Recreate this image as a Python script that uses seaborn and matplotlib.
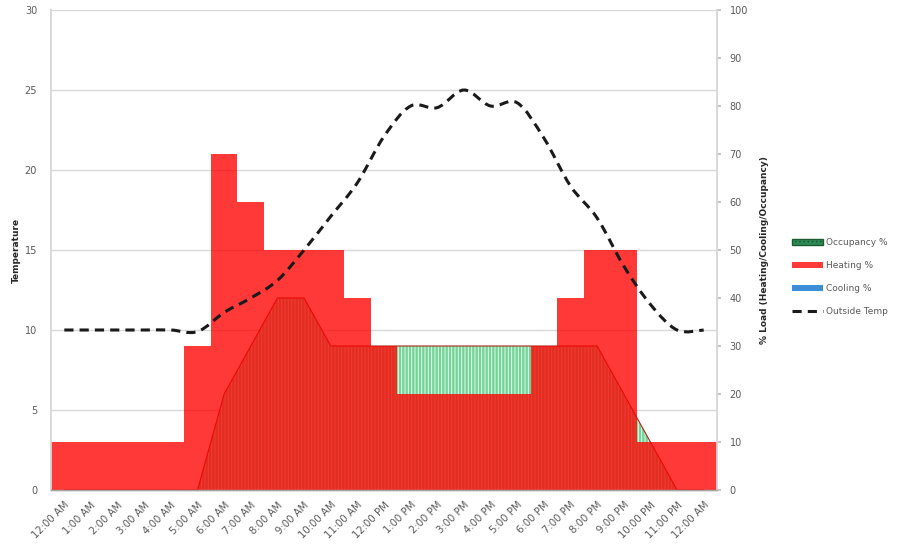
import numpy as np
import pandas as pd
import matplotlib
matplotlib.use("Agg")
import matplotlib.pyplot as plt
import seaborn as sns
from matplotlib.path import Path
from matplotlib.patches import PathPatch, Patch
from matplotlib.lines import Line2D

# Hourly profile, midnight to midnight
hours = ["12:00 AM", "1:00 AM", "2:00 AM", "3:00 AM", "4:00 AM", "5:00 AM",
         "6:00 AM", "7:00 AM", "8:00 AM", "9:00 AM", "10:00 AM", "11:00 AM",
         "12:00 PM", "1:00 PM", "2:00 PM", "3:00 PM", "4:00 PM", "5:00 PM",
         "6:00 PM", "7:00 PM", "8:00 PM", "9:00 PM", "10:00 PM", "11:00 PM",
         "12:00 AM"]
outside_temp = [10, 10, 10, 10, 10, 9.9, 11.1, 12.0, 13.1, 15.0, 17.1, 19.2,
                22.1, 24.0, 23.9, 25.0, 24.0, 24.2, 22.0, 19.0, 17.0, 14.0,
                11.6, 10.0, 10.0]
heating_pct = [10, 10, 10, 10, 10, 30, 70, 60, 50, 50, 50, 40,
               30, 20, 20, 20, 20, 20, 30, 40, 50, 50, 10, 10, 10]
cooling_pct = [0] * 25
occupancy_pct = [0, 0, 0, 0, 0, 0, 20, 30, 40, 40, 30, 30,
                 30, 30, 30, 30, 30, 30, 30, 30, 30, 20, 10, 0, 0]

temp_ticks = [0, 5, 10, 15, 20, 25, 30]
load_ticks = [0, 10, 20, 30, 40, 50, 60, 70, 80, 90, 100]

df = pd.DataFrame({"hour": [f"{i:02d}|{h}" for i, h in enumerate(hours)],
                   "heating": heating_pct, "cooling": cooling_pct,
                   "occupancy": occupancy_pct, "temp": outside_temp})

sns.set_theme(style="white")
plt.rcParams["font.family"] = ["DejaVu Sans"]
plt.rcParams["hatch.linewidth"] = 0.7

GRAY = "#595959"
fig = plt.figure(figsize=(9.14, 5.49), dpi=100)
ax = fig.add_axes([51 / 914, 59 / 549, 666 / 914, 480 / 549])
ax2 = ax.twinx()

# load series on the secondary (right) axis
x = np.arange(len(hours))
ax2.fill_between(x, df["occupancy"], 0, facecolor="#72d496", edgecolor="#e8f8ee",
                 hatch="|||||", linewidth=0, zorder=1)
ax2.plot(x, df["occupancy"], color="#a8281c", lw=0.8, zorder=1.5)
sns.barplot(data=df, x="hour", y="heating", ax=ax2, color="#ff0000", alpha=0.78,
            width=1.0, linewidth=0, saturation=1, errorbar=None, zorder=2)
sns.barplot(data=df, x="hour", y="cooling", ax=ax2, color="#3a8fd8",
            width=1.0, linewidth=0, saturation=1, errorbar=None, zorder=2)

# smoothed outside-temperature curve (Catmull-Rom style Bezier segments)
pts = np.column_stack([x, df["temp"].to_numpy(dtype=float)])
verts = [tuple(pts[0])]
codes = [Path.MOVETO]
n = len(pts)
for i in range(n - 1):
    p0 = pts[max(i - 1, 0)]
    p1 = pts[i]
    p2 = pts[i + 1]
    p3 = pts[min(i + 2, n - 1)]
    c1 = p1 + (p2 - p0) / 6.0
    c2 = p2 - (p3 - p1) / 6.0
    verts += [tuple(c1), tuple(c2), tuple(p2)]
    codes += [Path.CURVE4] * 3
temp_patch = PathPatch(Path(verts, codes), fill=False, edgecolor="#1a1a1a",
                       lw=2.2, linestyle=(0, (3, 2)), transform=ax.transData,
                       zorder=5)
ax2.add_patch(temp_patch)

# axis limits and ticks
ax2.set_ylim(0, 100)
ax2.set_yticks(load_ticks)
ax2.set_xlabel("")
ax2.set_ylabel("% Load (Heating/Cooling/Occupancy)", fontsize=6.5,
               fontweight="bold", color="#262626", labelpad=9, rotation=90)
ax2.tick_params(axis="y", length=3, color="#bfbfbf", labelsize=7,
                labelcolor=GRAY, pad=6)

ax.set_ylim(0, 30)
ax.set_yticks(temp_ticks)
ax.set_xlim(-0.5, len(hours) - 0.5)
ax.set_xticks(x)
ax.set_xticklabels(hours, rotation=45, ha="right", rotation_mode="anchor")
ax.tick_params(axis="x", length=0, labelsize=7.3, labelcolor=GRAY, pad=7)
ax.grid(axis="y", color="#d9d9d9", lw=1.0)
ax.grid(axis="x", visible=False)
ax.set_axisbelow(True)
ax.set_ylabel("Temperature", fontsize=6.5, fontweight="bold", color="#262626",
              labelpad=3)
ax.tick_params(axis="y", length=0, labelsize=7, labelcolor=GRAY, pad=10)

for a in (ax, ax2):
    a.spines["top"].set_visible(False)
    a.spines["left"].set_color("#d9d9d9")
    a.spines["right"].set_color("#d9d9d9")
    a.spines["bottom"].set_color("#a6a6a6")
    a.spines["bottom"].set_linewidth(1.0)

handles = [
    Patch(facecolor="#2e8b57", edgecolor="#1a5c30", hatch="....", lw=1.0),
    Patch(facecolor="#ff3838", edgecolor="none"),
    Patch(facecolor="#3a8fd8", edgecolor="none"),
    Line2D([0], [0], color="#1a1a1a", lw=2.2, linestyle=(0, (3, 2))),
]
labels = ["Occupancy %", "Heating %", "Cooling %", "Outside Temp"]
fig.legend(handles, labels, loc="upper left",
           bbox_to_anchor=(784 / 914, 1 - 230 / 549), frameon=False,
           fontsize=6.5, labelcolor=GRAY, handlelength=3.4, handleheight=0.6,
           labelspacing=1.55, handletextpad=0.3)

fig.savefig("out.png", dpi=100, facecolor="white")
